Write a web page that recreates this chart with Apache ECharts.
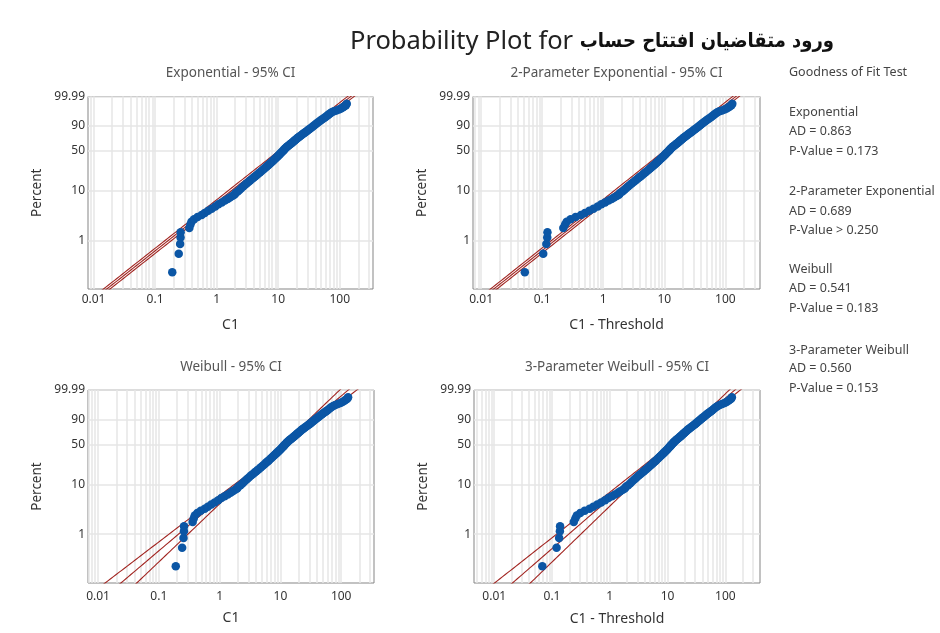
<!DOCTYPE html>
<html><head><meta charset="utf-8">
<script src="https://cdn.jsdelivr.net/npm/echarts@6/dist/echarts.min.js"></script>
<style>html,body{margin:0;padding:0;background:#fff}#chart{width:940px;height:633px}</style>
</head><body><div id="chart"></div>
<script>
// ---------- data ----------
const percentValues = [0.22,0.53,0.84,1.15,1.46,1.78,2.1,2.4,2.7,3.0,
  3.3,3.6,4.0,4.4,4.9,5.4,5.9,6.4,6.9,7.4,
  7.9,8.4,9.0,9.7,10.5,11.3,12.2,13.1,14.0,15.0,
  16,17,18,19,20,21.2,22.4,23.6,24.8,26.0,
  27.2,28.4,29.6,30.8,32.0,33.3,34.6,35.9,37.2,38.5,
  39.8,41.1,42.4,43.7,45.0,46.3,47.6,48.9,50.2,51.5,
  52.8,54.1,55.4,56.7,58.0,59.3,60.6,61.9,63.2,64.5,
  65.8,67.1,68.4,69.7,71.0,72.3,73.6,74.9,76.2,77.5,
  78.8,80.1,81.4,82.7,84.0,85.3,86.5,87.7,88.9,90.0,
  91.0,92.0,92.9,93.8,94.6,95.3,96.0,96.6,97.1,97.6,
  98.0,98.4,98.7,98.95,99.15,99.3,99.45,99.6,99.7,99.78,99.85];
const c1Values = [0.19,0.242,0.255,0.259,0.26,0.36,0.375,0.39,0.43,0.49,
  0.57,0.64,0.73,0.83,0.95,1.07,1.21,1.36,1.51,1.64,
  1.8,1.94,2.02,2.2,2.37,2.53,2.72,2.9,3.09,3.32,
  3.54,3.78,4.01,4.25,4.5,4.79,5.07,5.36,5.65,5.92,
  6.22,6.5,6.79,7.1,7.38,7.7,8.01,8.34,8.64,8.97,
  9.3,9.63,9.97,10.28,10.6,10.93,11.26,11.58,11.91,12.26,
  12.6,12.95,13.34,13.73,14.23,14.74,15.28,15.83,16.4,17.0,
  17.5,18.1,18.7,19.3,20.0,20.6,21.4,22.2,23.1,24.0,
  25.0,26.2,27.4,28.7,30.0,31.4,32.8,34.4,36.1,37.8,
  39.6,41.5,43.5,45.8,48.2,50.5,53.5,56.5,59.5,63,
  66,69.5,74,80,88,97,105,113,119,126,130];

const distNames = ['Exponential','2-Parameter Exponential','Weibull','3-Parameter Weibull'];
const xAxisNames = ['C1','C1 - Threshold','C1','C1 - Threshold'];
const thresholds = [0, 0.138, 0, 0.122];
const shapeParams = [1, 1, 1.06, 1.03];
const scaleParams = [16.4, 16.1, 16.1, 16.9];
// 95% CI half-width (log scale): sqrt(ciA + ciB*w + ciC*w^2)
const ciA = [0.0148, 0.0148, 0.0049, 0.0049];
const ciB = [0, 0, 0.0213, -0.0031];
const ciC = [0, 0, 0.0105, 0.0101];
const adValues = ['0.863','0.689','0.541','0.560'];
const pValueTexts = ['= 0.173','> 0.250','= 0.183','= 0.153'];
const xTickLabels = [0.01, 0.1, 1, 10, 100];
const yTickLabels = [1, 10, 50, 90, 99.99];
const titleMain = 'Probability Plot for ';
const titleVar = 'ورود متقاضیان افتتاح حساب';

// ---------- layout ----------
const layouts = [
  {left:88, top:96.5, width:285, height:192.5, xMin:-2.09, xMax:2.54, labelMargin:5, nameGap:29},
  {left:473, top:96.5, width:287, height:192.5, xMin:-2.133, xMax:2.567, labelMargin:5, nameGap:29},
  {left:88, top:390, width:286, height:193, xMin:-2.165, xMax:2.54, labelMargin:8, nameGap:28},
  {left:474, top:390, width:286, height:193, xMin:-2.35, xMax:2.6, labelMargin:8, nameGap:29}
];
const legendY = [[112.3,131.7,151],[191.7,211,230.7],[269,288.3,308.3],[350,368.3,388.3]];
const FONT = "'Noto Sans', 'DejaVu Sans', sans-serif";
const RED = '#a12420', BLUE = '#0b56a5';

const pw = p => Math.log(-Math.log(1 - p / 100));   // probability scale
const lx = v => Math.log10(v);                        // log scale
const yMin = pw(0.1), yMax = pw(99.99);

const minorX = [];
for (let d = -3; d <= 3; d++) for (let m = 1; m <= 9; m++) minorX.push(Math.log10(m * Math.pow(10, d)));
const yCustom = yTickLabels.map(pw);

const grids = [], xAxes = [], yAxes = [], series = [], graphics = [];
layouts.forEach((L, k) => {
  grids.push({left:L.left, top:L.top, width:L.width, height:L.height, show:true,
    borderColor:'#858585', borderWidth:1, backgroundColor:'#fff', containLabel:false});
  xAxes.push({type:'value', gridIndex:k, min:L.xMin, max:L.xMax,
    axisLine:{show:false},
    axisTick:{show:false, customValues: minorX.filter(v => v > L.xMin && v < L.xMax)},
    splitLine:{show:true, lineStyle:{color:'#e6e6e6', width:1.5}},
    axisLabel:{customValues: xTickLabels.map(lx), margin:L.labelMargin, color:'#333', fontSize:12, fontFamily:FONT,
      formatter: v => { let best = xTickLabels[0]; xTickLabels.forEach(t => { if (Math.abs(lx(t) - v) < Math.abs(lx(best) - v)) best = t; }); return String(best); }},
    name:xAxisNames[k], nameLocation:'middle', nameGap:L.nameGap,
    nameTextStyle:{fontSize:14, color:'#333', fontFamily:FONT}});
  yAxes.push({type:'value', gridIndex:k, min:yMin, max:yMax,
    axisLine:{show:false},
    axisTick:{show:false, customValues:yCustom},
    splitLine:{show:true, lineStyle:{color:'#e6e6e6', width:1.5}},
    axisLabel:{customValues:yCustom, margin:3, color:'#333', fontSize:12, fontFamily:FONT,
      formatter: v => { let best = yTickLabels[0]; yTickLabels.forEach(t => { if (Math.abs(pw(t) - v) < Math.abs(pw(best) - v)) best = t; }); return String(best); }},
    name:'Percent', nameLocation:'middle', nameGap:44,
    nameTextStyle:{fontSize:13.5, color:'#333', fontFamily:FONT}});

  // fitted line and 95% CI
  const fit = [], lo = [], hi = [];
  for (let w = yMin - 0.6; w <= yMax + 0.6; w += 0.05) {
    const lt = Math.log(scaleParams[k]) + w / shapeParams[k];
    const hw = Math.sqrt(Math.max(ciA[k] + ciB[k] * w + ciC[k] * w * w, 0));
    fit.push([lt / Math.LN10, w]);
    lo.push([(lt - hw) / Math.LN10, w]);
    hi.push([(lt + hw) / Math.LN10, w]);
  }
  [lo, fit, hi].forEach(d => series.push({type:'line', xAxisIndex:k, yAxisIndex:k, data:d, showSymbol:false,
    symbol:'none', clip:true, z:2, silent:true, lineStyle:{color:RED, width:1.1}}));

  series.push({type:'scatter', xAxisIndex:k, yAxisIndex:k, z:3, symbolSize:8.5, silent:true,
    itemStyle:{color:BLUE, opacity:1},
    data: c1Values.map((c, i) => [lx(c - thresholds[k]), pw(percentValues[i])])});

  graphics.push({type:'text', x:L.left + L.width / 2, y:L.top - 23,
    style:{text:distNames[k] + ' - 95% CI', fill:'#555', font:'13.5px ' + FONT, align:'center', verticalAlign:'middle'}});
  const ly = legendY[k];
  graphics.push({type:'text', x:789, y:ly[0], style:{text:distNames[k], fill:'#444', font:'12.5px ' + FONT, verticalAlign:'middle'}});
  graphics.push({type:'text', x:789, y:ly[1], style:{text:'AD = ' + adValues[k], fill:'#444', font:'12.5px ' + FONT, verticalAlign:'middle'}});
  graphics.push({type:'text', x:789, y:ly[2], style:{text:'P-Value ' + pValueTexts[k], fill:'#444', font:'12.5px ' + FONT, verticalAlign:'middle'}});
});
graphics.push({type:'text', x:789, y:72.3, style:{text:'Goodness of Fit Test', fill:'#444', font:'12.5px ' + FONT, verticalAlign:'middle'}});
graphics.push({type:'text', x:592, y:42, style:{text:'{a|' + titleMain + '}{b|' + titleVar + '}', align:'center', verticalAlign:'middle',
  rich:{a:{fontSize:25.5, fontFamily:FONT, fill:'#222', color:'#222'},
        b:{fontSize:20, fontFamily:"'DejaVu Sans Condensed', 'DejaVu Sans', sans-serif", fontWeight:'bold', fill:'#111', color:'#111'}}}});

const chart = echarts.init(document.getElementById('chart'), null, {renderer:'canvas'});
chart.setOption({animation:false, backgroundColor:'#fff', grid:grids, xAxis:xAxes, yAxis:yAxes, series:series, graphic:graphics});
</script></body></html>
